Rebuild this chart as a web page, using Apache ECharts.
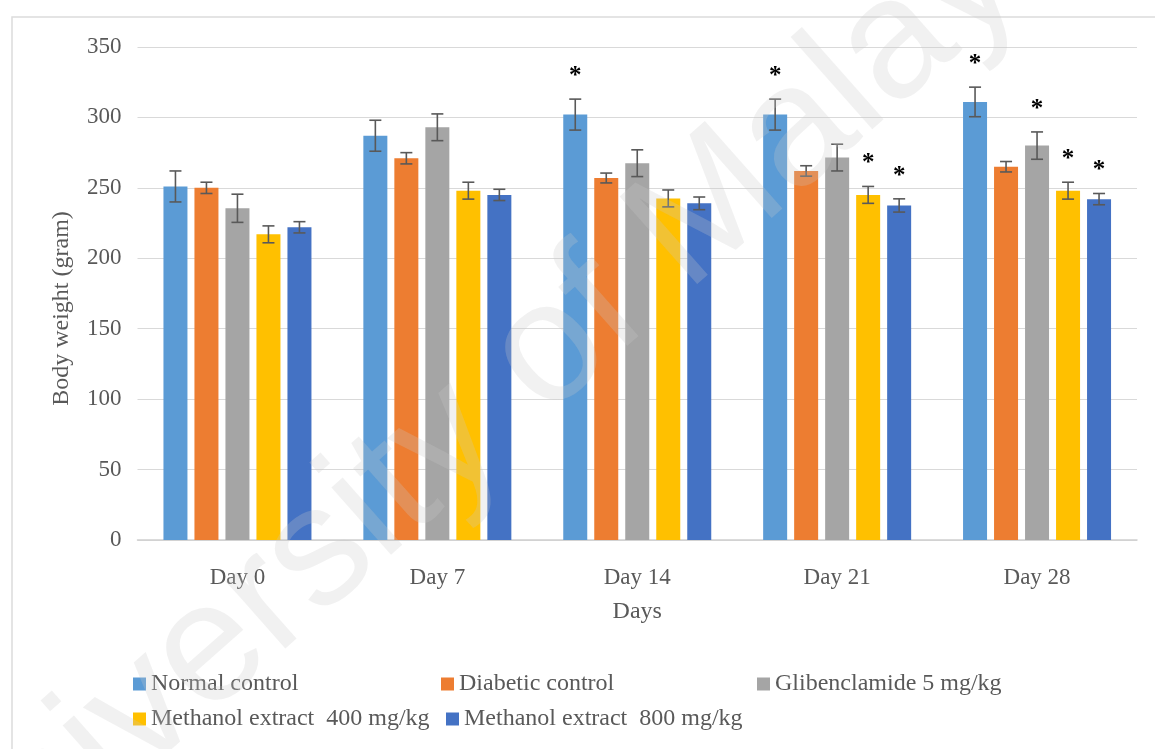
<!DOCTYPE html>
<html>
<head>
<meta charset="utf-8">
<script src="https://cdn.jsdelivr.net/npm/echarts@6/dist/echarts.min.js"></script>
<style>
  html, body { margin: 0; padding: 0; background: #ffffff; }
  #chart { width: 1155px; height: 749px; }
</style>
</head>
<body>
<div id="chart"></div>
<script>
// Body weight of rats over 28 days (mean ± SD), five treatment groups
const days = ['Day 0', 'Day 7', 'Day 14', 'Day 21', 'Day 28'];
const yTicks = [0, 50, 100, 150, 200, 250, 300, 350];

const groupNames = [
  'Normal control',
  'Diabetic control',
  'Glibenclamide 5 mg/kg',
  'Methanol extract  400 mg/kg',
  'Methanol extract  800 mg/kg'
];
const groupColors = ['#5B9BD5', '#ED7D31', '#A5A5A5', '#FFC000', '#4472C4'];

const normalMean = [251, 287, 302, 302, 311];
const normalSD = [11, 11, 11, 11, 10.5];
const normalSig = [false, false, true, true, true];

const diabeticMean = [250, 271, 257, 262, 265];
const diabeticSD = [4, 4, 3.5, 3.7, 3.7];
const diabeticSig = [false, false, false, false, false];

const glibenMean = [235.5, 293, 267.5, 271.5, 280];
const glibenSD = [10, 9.5, 9.5, 9.5, 9.7];
const glibenSig = [false, false, false, false, true];

const meoh400Mean = [217, 248, 242.5, 245, 248];
const meoh400SD = [6, 6, 6, 6, 6];
const meoh400Sig = [false, false, false, true, true];

const meoh800Mean = [222, 245, 239, 237.5, 242];
const meoh800SD = [4, 4, 4.5, 4.7, 4];
const meoh800Sig = [false, false, false, true, true];

const means = [normalMean, diabeticMean, glibenMean, meoh400Mean, meoh800Mean];
const sds = [normalSD, diabeticSD, glibenSD, meoh400SD, meoh800SD];
const sigs = [normalSig, diabeticSig, glibenSig, meoh400Sig, meoh800Sig];

const BAR_W = 24;
const BAR_GAP = 7;
const FONT = '"Liberation Serif", "Times New Roman", serif';
const TEXT = '#595959';

const chart = echarts.init(document.getElementById('chart'), null, { renderer: 'canvas' });

const barSeries = groupNames.map((name, i) => ({
  name: name,
  type: 'bar',
  data: means[i],
  barWidth: BAR_W,
  barGap: (BAR_GAP / BAR_W * 100) + '%',
  itemStyle: { color: groupColors[i] },
  z: 2
}));

// Error bars (mean ± SD) with significance asterisks, placed over each bar
const errorSeries = groupNames.map((name, i) => ({
  type: 'custom',
  name: name + ' SD',
  data: means[i].map((m, k) => [k, m, sds[i][k], sigs[i][k] ? 1 : 0]),
  z: 5,
  silent: true,
  renderItem: function (params, api) {
    const k = api.value(0);
    const m = api.value(1);
    const sd = api.value(2);
    const sig = api.value(3);
    const offset = (i - (groupNames.length - 1) / 2) * (BAR_W + BAR_GAP);
    const top = api.coord([k, m + sd]);
    const bot = api.coord([k, m - sd]);
    const x = top[0] + offset;
    const cap = 6;
    const stroke = { stroke: '#595959', lineWidth: 1.6 };
    const children = [
      { type: 'line', shape: { x1: x, y1: top[1], x2: x, y2: bot[1] }, style: stroke },
      { type: 'line', shape: { x1: x - cap, y1: top[1], x2: x + cap, y2: top[1] }, style: stroke },
      { type: 'line', shape: { x1: x - cap, y1: bot[1], x2: x + cap, y2: bot[1] }, style: stroke }
    ];
    if (sig) {
      children.push({
        type: 'text',
        style: {
          text: '*', x: x, y: top[1] - 10,
          align: 'center', verticalAlign: 'bottom',
          font: 'bold 25px ' + FONT, fill: '#000000'
        }
      });
    }
    return { type: 'group', children: children };
  }
}));

// Legend laid out as a two-row grid
const legendPos = [
  { left: 133, top: 672 },
  { left: 441, top: 672 },
  { left: 757, top: 672 },
  { left: 133, top: 707 },
  { left: 446, top: 707 }
];
const legends = groupNames.map((name, i) => ({
  data: [name],
  left: legendPos[i].left,
  top: legendPos[i].top,
  padding: 0,
  itemWidth: 13,
  itemHeight: 13,
  itemGap: 6,
  icon: 'rect',
  selectedMode: false,
  textStyle: { fontFamily: FONT, fontSize: 24, color: TEXT, padding: [0, 0, 0, 0] }
}));

chart.setOption({
  backgroundColor: '#ffffff',
  animation: false,
  graphic: [
    {
      type: 'rect',
      shape: { x: 12, y: 17, width: 1160, height: 760 },
      style: { fill: 'none', stroke: '#dcdcdc', lineWidth: 1.5 },
      z: 0
    },
    {
      type: 'text',
      x: 493, y: 402,
      rotation: 41.5 * Math.PI / 180,
      style: {
        text: 'University of Malaya',
        font: '170px "Liberation Sans", Arial, sans-serif',
        fill: 'rgba(200,200,200,0.26)',
        align: 'center', verticalAlign: 'middle'
      },
      z: 100,
      silent: true
    }
  ],
  legend: legends,
  grid: { left: 137.5, right: 18, top: 47, bottom: 209, containLabel: false },
  xAxis: {
    type: 'category',
    data: days,
    name: 'Days',
    nameLocation: 'middle',
    nameGap: 60,
    nameTextStyle: { fontFamily: FONT, fontSize: 24, color: TEXT },
    axisLine: { lineStyle: { color: '#cfcfcf', width: 1.5 } },
    axisTick: { show: false },
    axisLabel: { fontFamily: FONT, fontSize: 23, color: TEXT, margin: 26 }
  },
  yAxis: {
    type: 'value',
    min: yTicks[0],
    max: yTicks[yTicks.length - 1],
    interval: yTicks[1] - yTicks[0],
    name: 'Body weight (gram)',
    nameLocation: 'middle',
    nameGap: 64,
    nameTextStyle: { fontFamily: FONT, fontSize: 24, color: TEXT, padding: [0, 30, 0, 0] },
    axisLine: { show: false },
    axisTick: { show: false },
    splitLine: { lineStyle: { color: '#d9d9d9', width: 1.2 } },
    axisLabel: { fontFamily: FONT, fontSize: 23, color: TEXT, margin: 16 }
  },
  series: barSeries.concat(errorSeries)
});
</script>
</body>
</html>
